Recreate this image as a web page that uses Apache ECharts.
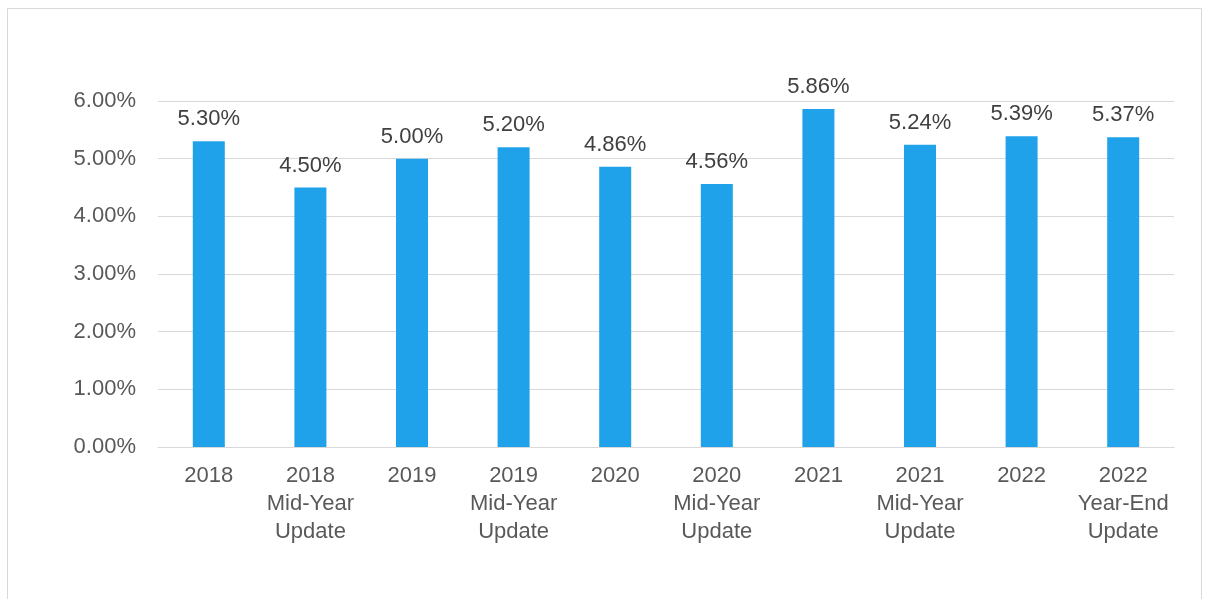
<!DOCTYPE html>
<html>
<head>
<meta charset="utf-8">
<script src="https://cdn.jsdelivr.net/npm/echarts@6/dist/echarts.min.js"></script>
<style>
html,body{margin:0;padding:0;background:#fff;}
#chart{width:1211px;height:599px;}
</style>
</head>
<body>
<div id="chart"></div>
<script>
const categories = ['2018', '2018\nMid-Year\nUpdate', '2019', '2019\nMid-Year\nUpdate', '2020', '2020\nMid-Year\nUpdate', '2021', '2021\nMid-Year\nUpdate', '2022', '2022\nYear-End\nUpdate'];
const values = [5.30, 4.50, 5.00, 5.20, 4.86, 4.56, 5.86, 5.24, 5.39, 5.37];
const yMin = 0, yMax = 6, yInterval = 1;

const chart = echarts.init(document.getElementById('chart'));
chart.setOption({
  animation: false,
  backgroundColor: '#ffffff',
  textStyle: { fontFamily: '"Liberation Sans", Arial, sans-serif' },
  graphic: [{
    type: 'rect',
    shape: { x: 7.5, y: 8.5, width: 1194, height: 620 },
    style: { fill: 'none', stroke: '#d9d9d9', lineWidth: 1 },
    silent: true
  }],
  grid: { left: 158, right: 37, top: 101, bottom: 152, containLabel: false },
  xAxis: {
    type: 'category',
    data: categories,
    axisLine: { show: true, lineStyle: { color: '#d9d9d9', width: 1 } },
    axisTick: { show: false },
    axisLabel: {
      color: '#595959', fontSize: 22, lineHeight: 28, margin: 15, interval: 0,
      fontFamily: '"Liberation Sans", Arial, sans-serif'
    }
  },
  yAxis: {
    type: 'value',
    min: yMin, max: yMax, interval: yInterval,
    axisLine: { show: false },
    axisTick: { show: false },
    splitLine: { lineStyle: { color: '#d9d9d9', width: 1 } },
    axisLabel: {
      color: '#595959', fontSize: 22, margin: 22,
      fontFamily: '"Liberation Sans", Arial, sans-serif',
      formatter: v => v.toFixed(2) + '%'
    }
  },
  series: [{
    type: 'bar',
    data: values,
    barWidth: 32,
    itemStyle: { color: '#1fa2ea' },
    label: {
      show: true, position: 'top', distance: 11,
      color: '#404040', fontSize: 22,
      fontFamily: '"Liberation Sans", Arial, sans-serif',
      formatter: p => p.value.toFixed(2) + '%'
    }
  }]
});
</script>
</body>
</html>
